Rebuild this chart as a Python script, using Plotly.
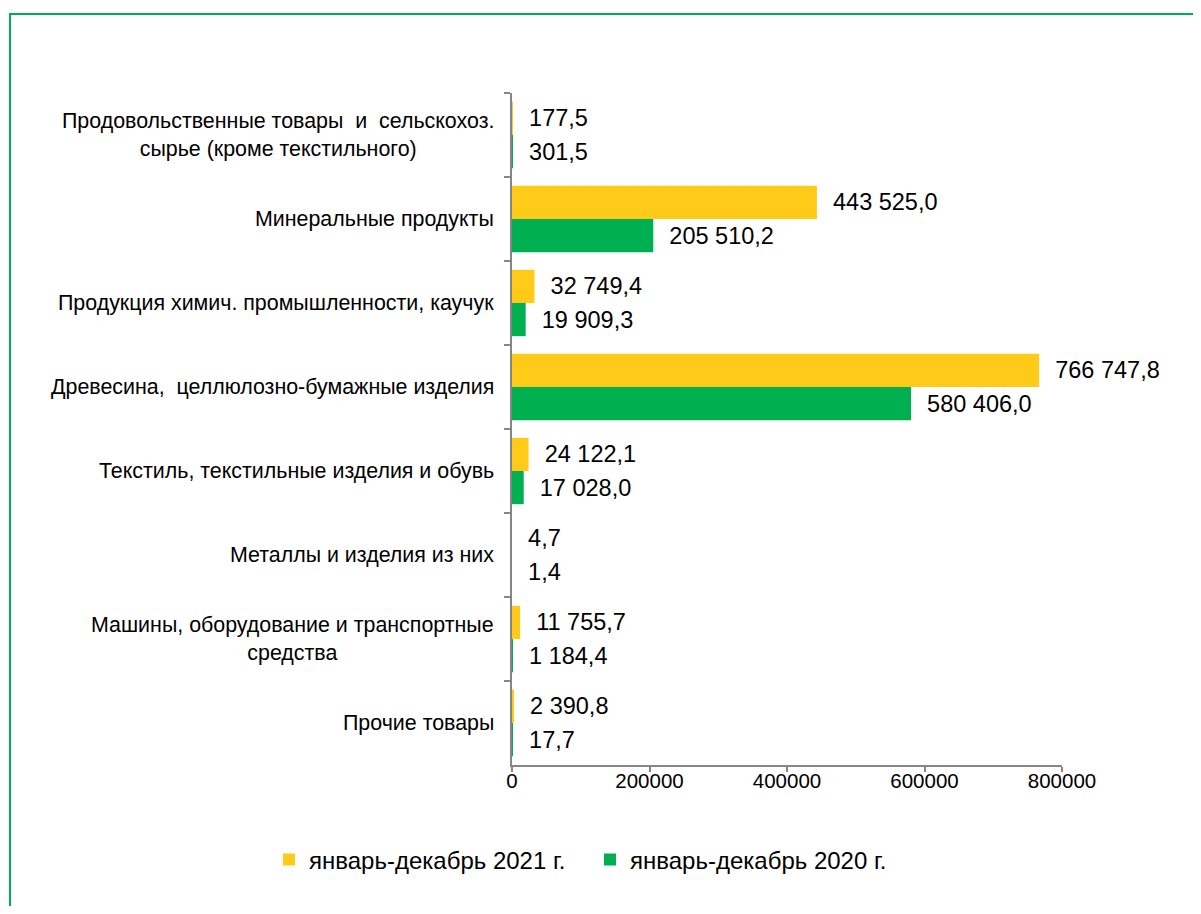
import plotly.graph_objects as go

categories = [
    "Продовольственные товары  и  сельскохоз.<br>сырье (кроме текстильного)",
    "Минеральные продукты",
    "Продукция химич. промышленности, каучук",
    "Древесина,  целлюлозно-бумажные изделия",
    "Текстиль, текстильные изделия и обувь",
    "Металлы и изделия из них",
    "Машины, оборудование и транспортные<br>средства",
    "Прочие товары",
]
v2021 = [177.5, 443525.0, 32749.4, 766747.8, 24122.1, 4.7, 11755.7, 2390.8]
v2020 = [301.5, 205510.2, 19909.3, 580406.0, 17028.0, 1.4, 1184.4, 17.7]
series_names = ["январь-декабрь 2021 г.", "январь-декабрь 2020 г."]
x_ticks = [0, 200000, 400000, 600000, 800000]

FONT = "Liberation Sans, Arial, sans-serif"
YELLOW = "#FFCA18"
GREEN = "#00B050"


def ru(v):
    return "\u00a0\u00a0" + f"{v:,.1f}".replace(",", " ").replace(".", ",")


fig = go.Figure()
for name, vals, col in [(series_names[0], v2021, YELLOW), (series_names[1], v2020, GREEN)]:
    fig.add_trace(go.Bar(
        y=categories, x=vals, name=name, orientation="h",
        marker=dict(color=col, line=dict(width=0)),
        text=[ru(v) for v in vals], textposition="outside",
        textfont=dict(family=FONT, size=23.5, color="#000000"),
        constraintext="none", cliponaxis=False,
    ))

for c in categories:
    fig.add_annotation(
        x=0, xref="paper", y=c, yref="y", text=c, showarrow=False,
        xanchor="right", xshift=-16, align="center",
        font=dict(family=FONT, size=21.4, color="#000000"),
    )

# page has an 8px body margin; figure coordinates below are page px - 8
W, H = 1185, 898
ml, mt = 504, 85
pw, ph = 550, 672
mr, mb = W - ml - pw, H - mt - ph


def px_x(p):
    return (p - 8 - ml) / pw


def px_y(p):
    return 1 - (p - 8 - mt) / ph


fig.add_shape(type="rect", xref="paper", yref="paper",
              x0=px_x(10), x1=px_x(1300), y0=px_y(1000), y1=px_y(14),
              line=dict(color=GREEN, width=2), fillcolor="rgba(0,0,0,0)", layer="above")

fig.update_layout(
    width=W, height=H,
    margin=dict(l=ml, r=mr, t=mt, b=mb),
    paper_bgcolor="white", plot_bgcolor="white",
    barmode="group", bargap=0.21, bargroupgap=0,
    font=dict(family=FONT, size=20, color="#000000"),
    showlegend=True,
    legend=dict(orientation="h", x=px_x(269), xanchor="left", y=px_y(860), yanchor="middle",
                font=dict(family=FONT, size=24, color="#000000"), traceorder="normal",
                entrywidth=276, bgcolor="rgba(0,0,0,0)"),
    xaxis=dict(range=[0, 800000], tickvals=x_ticks, ticktext=[str(t) for t in x_ticks],
               showgrid=False, zeroline=False, showline=True, linecolor="#868686", linewidth=1.5,
               ticks="outside", ticklen=5, tickcolor="#868686", tickwidth=1.5,
               ticklabelstandoff=-8,
               tickfont=dict(family=FONT, size=20.5, color="#000000")),
    yaxis=dict(autorange="reversed", showgrid=False, zeroline=False, showline=True,
               linecolor="#868686", linewidth=2, ticks="outside", tickson="boundaries",
               ticklen=6, tickcolor="#868686", tickwidth=1.5, showticklabels=False),
)

fig.write_html("out.html")
